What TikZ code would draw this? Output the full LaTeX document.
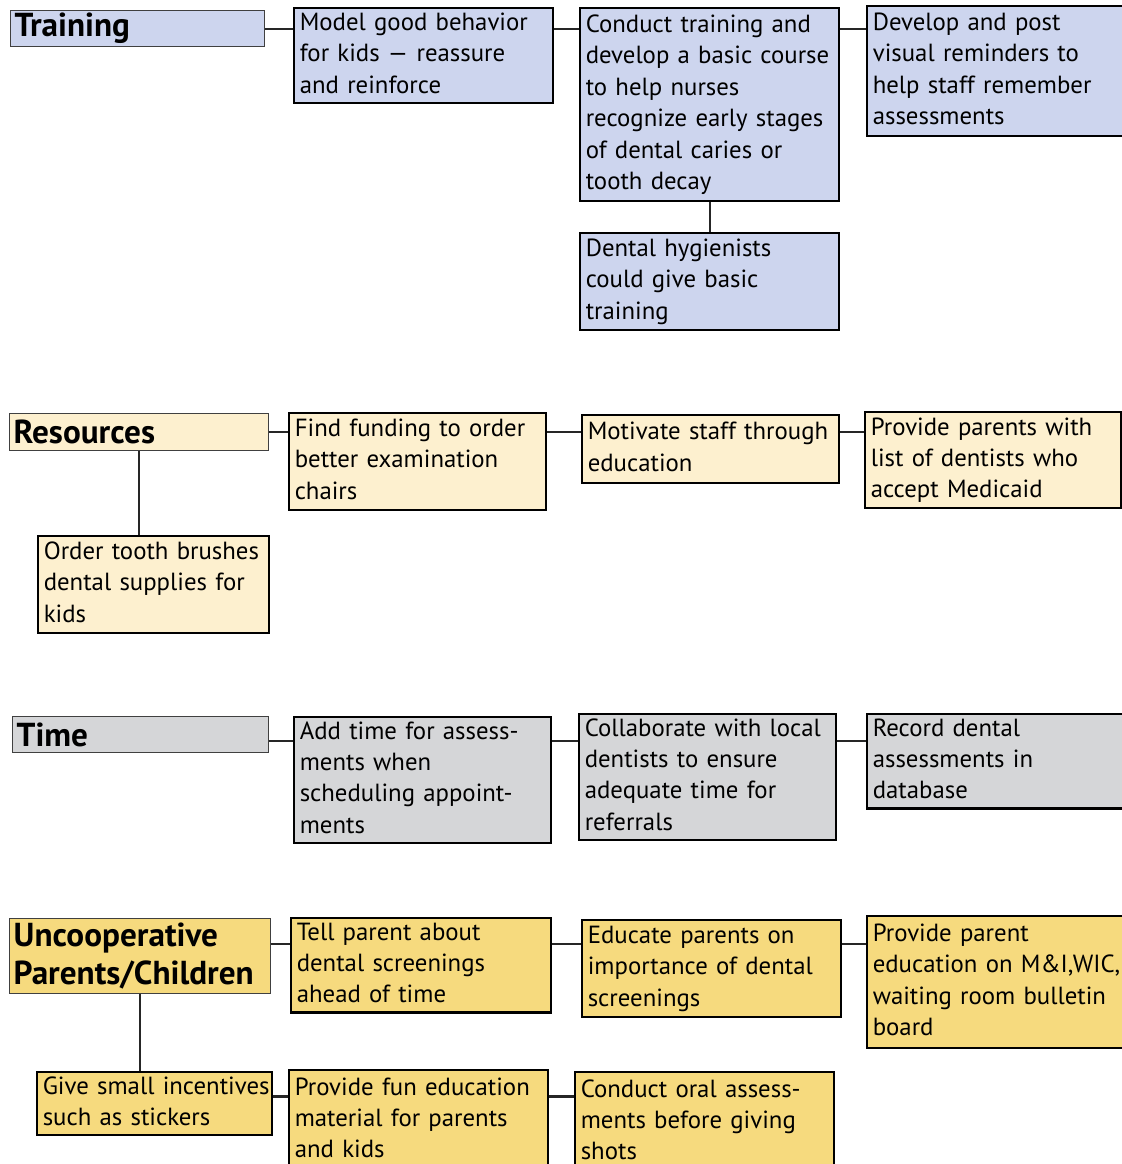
\documentclass[tikz,border=0pt]{standalone}
\usepackage{fontspec}
\setmainfont{PT Sans}
\usetikzlibrary{positioning}
\definecolor{trainblue}{RGB}{205,213,238}
\definecolor{rescream}{RGB}{253,240,207}
\definecolor{timegray}{RGB}{213,214,216}
\definecolor{coopgold}{RGB}{246,218,126}
\newcommand\lns[1]{\begin{tabular}{@{}l@{}}#1\end{tabular}}
\tikzset{
  head/.style={draw=black!75, line width=0.7pt, anchor=north west, inner xsep=2pt, inner ysep=0pt,
    align=left, font=\fontsize{16.6}{19}\selectfont\bfseries},
  item/.style={draw=black, line width=1.2pt, anchor=north west, inner xsep=2.8pt, inner ysep=0pt,
    align=left, font=\fontsize{12.4}{15.7}\selectfont},
  link/.style={line width=1.2pt, black!85},
}
\begin{document}
\begin{tikzpicture}[x=0.5pt,y=-0.5pt]
  \useasboundingbox[fill=white] (0,0) rectangle (1122,1164);

  % Training
  \node[head, fill=trainblue, text width=123pt, minimum height=18pt] (train) at (10,10) {Training};
  \node[item, fill=trainblue, text width=123.9pt, minimum height=47.5pt] (model) at (293,7)
    {\lns{Model good behavior\\for kids --- reassure\\and reinforce}};
  \node[item, fill=trainblue, text width=123.9pt, minimum height=96.5pt] (course) at (579,7)
    {\lns{Conduct training and\\develop a basic course\\to help nurses\\recognize early stages\\of dental caries or\\tooth decay}};
  \node[item, fill=trainblue, text width=124.4pt, minimum height=65pt] (remind) at (866,5)
    {\lns{Develop and post\\visual reminders to\\help staff remember\\assessments}};
  \node[item, fill=trainblue, text width=123.9pt, minimum height=48.5pt] (hyg) at (579,232)
    {\lns{Dental hygienists\\could give basic\\training}};
  \draw[link] (train.east) -- (train.east -| model.west);
  \draw[link] (model.east |- train.east) -- (course.west |- train.east);
  \draw[link] (course.east |- train.east) -- (remind.west |- train.east);
  \draw[link] (course.south) -- (hyg.north);

  % Resources
  \node[head, fill=rescream, text width=125.5pt, minimum height=18.5pt] (res) at (9,413) {Resources};
  \node[item, fill=rescream, text width=122.9pt, minimum height=48.5pt] (fund) at (288,412)
    {\lns{Find funding to order\\better examination\\chairs}};
  \node[item, fill=rescream, text width=122.9pt, minimum height=34pt] (motiv) at (581,414)
    {\lns{Motivate staff through\\education}};
  \node[item, fill=rescream, text width=122.4pt, minimum height=48pt] (medic) at (864,411)
    {\lns{Provide parents with\\list of dentists who\\accept Medicaid}};
  \node[item, fill=rescream, text width=109.9pt, minimum height=48.5pt] (brush) at (37,535)
    {\lns{Order tooth brushes\\dental supplies for\\kids}};
  \draw[link] (res.east) -- (res.east -| fund.west);
  \draw[link] (fund.east |- res.east) -- (motiv.west |- res.east);
  \draw[link] (motiv.east |- res.east) -- (medic.west |- res.east);
  \draw[link] (res.south) -- (res.south |- brush.north);

  % Time
  \node[head, fill=timegray, text width=124pt, minimum height=18pt] (time) at (12,716) {Time};
  \node[item, fill=timegray, text width=122.9pt, minimum height=62pt] (sched) at (293,716)
    {\lns{Add time for assess-\\ments when\\scheduling appoint-\\ments}};
  \node[item, fill=timegray, text width=122.9pt, minimum height=62.5pt] (collab) at (578,713)
    {\lns{Collaborate with local\\dentists to ensure\\adequate time for\\referrals}};
  \node[item, fill=timegray, text width=124.4pt, minimum height=47pt] (record) at (866,713)
    {\lns{Record dental\\assessments in\\database}};
  \draw[link] ([yshift=-3pt]time.east) -- ([yshift=-3pt]time.east -| sched.west);
  \draw[link] ([yshift=-3pt]sched.east |- time.east) -- ([yshift=-3pt]collab.west |- time.east);
  \draw[link] ([yshift=-3pt]collab.east |- time.east) -- ([yshift=-3pt]record.west |- time.east);

  % Uncooperative parents / children
  \node[head, fill=coopgold, text width=126.5pt, minimum height=37.5pt] (coop) at (9,918)
    {Uncooperative\\Parents/Children};
  \node[item, fill=coopgold, text width=124.4pt, minimum height=46.5pt] (tell) at (290,917)
    {\lns{Tell parent about\\dental screenings\\ahead of time}};
  \node[item, fill=coopgold, text width=123.9pt, minimum height=48.5pt] (educ) at (581,919)
    {\lns{Educate parents on\\importance of dental\\screenings}};
  \node[item, fill=coopgold, text width=124.4pt, minimum height=66pt] (board) at (866,915)
    {\lns{Provide parent\\education on M\&I,WIC,\\waiting room bulletin\\board}};
  \node[item, fill=coopgold, text width=111.9pt, minimum height=31pt] (sticker) at (36,1071)
    {\lns{Give small incentives\\such as stickers}};
  \node[item, fill=coopgold, text width=123.9pt, minimum height=50pt] (fun) at (288,1069)
    {\lns{Provide fun education\\material for parents\\and kids}};
  \node[item, fill=coopgold, text width=123.9pt, minimum height=50pt] (oral) at (574,1071)
    {\lns{Conduct oral assess-\\ments before giving\\shots}};
  \draw[link] ([yshift=6pt]coop.east) -- ([yshift=6pt]coop.east -| tell.west);
  \draw[link] ([yshift=6pt]tell.east |- coop.east) -- ([yshift=6pt]educ.west |- coop.east);
  \draw[link] ([yshift=6pt]educ.east |- coop.east) -- ([yshift=6pt]board.west |- coop.east);
  \draw[link] (coop.south) -- (coop.south |- sticker.north);
  \draw[link] ([yshift=3.5pt]sticker.east) -- ([yshift=3.5pt]sticker.east -| fun.west);
  \draw[link] ([yshift=3.5pt]fun.east |- sticker.east) -- ([yshift=3.5pt]oral.west |- sticker.east);
\end{tikzpicture}
\end{document}
